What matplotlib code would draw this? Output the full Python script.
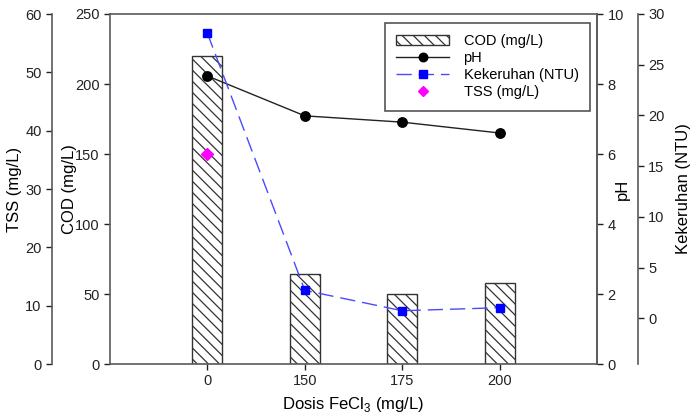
import matplotlib
matplotlib.use('Agg')
import matplotlib.pyplot as plt
import numpy as np

plt.rcParams['font.family'] = ['Liberation Sans', 'DejaVu Sans']
plt.rcParams['mathtext.fontset'] = 'custom'
plt.rcParams['mathtext.rm'] = 'Liberation Sans'
plt.rcParams['hatch.linewidth'] = 0.9

# data
dosis = ['0', '150', '175', '200']
cod = [220, 64, 50, 58]
ph = [8.23, 7.09, 6.91, 6.6]
kekeruhan = [28.1, 2.76, 0.75, 1.05]
tss = [36]  # only measured at dose 0

spine_col = '#5a5a5a'
x = np.arange(len(dosis))

fig = plt.figure(figsize=(6.91, 4.15), dpi=100)
ax = fig.add_axes([110 / 691, 51 / 415, 487 / 691, 350 / 415])


def style(a):
    a.tick_params(direction='out', length=4, width=1, colors='#222222',
                  labelsize=10.5)
    for s in a.spines.values():
        s.set_color(spine_col)
        s.set_linewidth(1.2)


# COD bars
bars = ax.bar(x, cod, width=0.31, facecolor='white', edgecolor='#333333',
              hatch='\\\\\\', linewidth=1, label='COD (mg/L)')
ax.set_xlim(-1, 4)
ax.set_ylim(0, 250)
ax.set_xticks(x)
ax.set_xticklabels(dosis)
ax.set_yticks(np.arange(0, 251, 50))
ax.set_xlabel('Dosis FeCl$_3$ (mg/L)', fontsize=12, labelpad=5)
ax.set_ylabel('COD (mg/L)', fontsize=12)
ax.yaxis.set_label_coords(-0.068, 0.5)
style(ax)

# TSS axis (outer left)
ax_tss = ax.twinx()
ax_tss.yaxis.set_ticks_position('left')
ax_tss.yaxis.set_label_position('left')
for s in ['top', 'right', 'bottom']:
    ax_tss.spines[s].set_visible(False)
ax_tss.spines['left'].set_visible(True)
ax_tss.spines['left'].set_position(('axes', -0.119))
ax_tss.set_ylim(0, 60)
ax_tss.set_yticks(np.arange(0, 61, 10))
ax_tss.set_ylabel('TSS (mg/L)', fontsize=12)
ax_tss.yaxis.set_label_coords(-0.181, 0.5)
style(ax_tss)
tss_pts, = ax_tss.plot(x[:len(tss)], tss, linestyle='none', marker='D',
                       color='#ff00ff', markersize=6, label='TSS (mg/L)')

# pH axis (inner right)
ax_ph = ax.twinx()
for s in ['top', 'left', 'bottom']:
    ax_ph.spines[s].set_visible(False)
ax_ph.set_ylim(0, 10)
ax_ph.set_yticks(np.arange(0, 11, 2))
ax_ph.set_ylabel('pH', fontsize=12)
ax_ph.yaxis.set_label_coords(1.037, 0.5)
style(ax_ph)
ph_line, = ax_ph.plot(x, ph, color='#222222', linewidth=1, marker='o',
                      markersize=6.8, markerfacecolor='black',
                      markeredgecolor='black', label='pH')

# Kekeruhan axis (outer right)
ax_kek = ax.twinx()
for s in ['top', 'left', 'bottom']:
    ax_kek.spines[s].set_visible(False)
ax_kek.spines['right'].set_position(('axes', 1.084))
ax_kek.set_ylim(-4.5, 30)
ax_kek.set_yticks(np.arange(0, 31, 5))
ax_kek.set_ylabel('Kekeruhan (NTU)', fontsize=12)
ax_kek.yaxis.set_label_coords(1.162, 0.5)
style(ax_kek)
kek_line, = ax_kek.plot(x, kekeruhan, color='#4a4aff', linewidth=1,
                        dashes=(11, 5), marker='s', markersize=5.8,
                        markerfacecolor='#0000ff', markeredgecolor='#0000ff',
                        label='Kekeruhan (NTU)')

leg = ax_kek.legend([bars, ph_line, kek_line, tss_pts],
                    ['COD (mg/L)', 'pH', 'Kekeruhan (NTU)', 'TSS (mg/L)'],
                    loc='upper right', bbox_to_anchor=(0.986, 0.975),
                    borderaxespad=0, fontsize=10.5, fancybox=False,
                    framealpha=1, edgecolor='#555555', handlelength=3.6,
                    labelspacing=0.2, borderpad=0.8, handletextpad=1.0,
                    markerscale=0.9)
leg.get_frame().set_linewidth(1.2)

fig.savefig('out.png', dpi=100)
